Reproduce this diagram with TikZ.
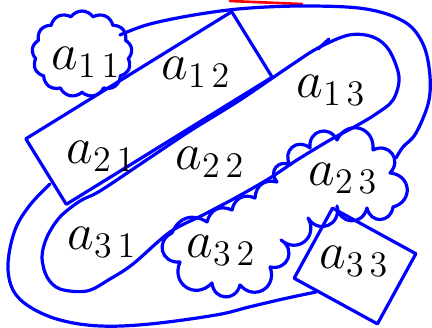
\documentclass[tikz,border=0pt]{standalone}
\usepackage{tikz}
\usetikzlibrary{shapes.symbols}

\begin{document}
\begin{tikzpicture}[
  x=1pt, y=-1pt,
  pen/.style={draw=blue, line width=3.2pt, line cap=round, line join=round},
  blob/.style={cloud, cloud puffs=13, cloud puff arc=110, pen, inner sep=0pt},
  box/.style={rectangle, pen, inner sep=0pt},
  entry/.style={font=\huge, inner sep=0pt, scale=2.5, transform shape},
  scallop/.style={bend left=50, looseness=1.2},
  puff/.style={bend left=80, looseness=1.6}
]
\useasboundingbox (0,0) rectangle (432,328);

% red stroke at the top edge
\draw[red, line width=2.6pt, line cap=round] (230,1) -- (302,4);

% outer loop
\draw[pen] plot[smooth, tension=0.6] coordinates {(120,35) (150,24) (200,14) (250,8) (310,6)
  (366,9) (403,21) (421,40) (429,67) (429,100) (416,133) (403,147) (396,158)};
\draw[pen] plot[smooth, tension=0.6] coordinates {(50,184) (30,205) (15,230) (8,264) (13,290)
  (30,307) (60,320) (100,326) (150,324) (216,315) (249,307) (283,299) (316,292)};

% hairpin loop a13 - a22 - a31
\draw[pen] plot[smooth cycle, tension=0.55] coordinates {(80,201) (100,191) (145,161) (190,131)
  (240,100) (290,66) (318,48) (349,35) (373,37) (389,50) (399,77) (393,100) (376,114)
  (356,126) (330,140) (297,160) (270,178) (237,197) (203,215) (170,232) (133,264)
  (110,279) (87,291) (60,289) (47,277) (42,257) (47,237) (60,217)};
\draw[pen] (318,49) -- (329,39);

% cloud a11
\node[blob, minimum width=100pt, minimum height=86pt] (c11) at (82,54) {};

% box a12 - a21
\node[box, minimum width=242pt, minimum height=77pt, rotate=31.7] (b12) at (149,108) {};

% cloud a23 - a32
\draw[pen] (172,233) to[scallop] (207,222) to[scallop] (232,210) to[scallop] (255,198)
  to[scallop] (277,182) to[puff] (290,165) to[puff] (310,148) to[puff] (337,140)
  to[puff] (373,150) to[puff] (390,173) to[puff] (393,207) to[puff] (367,208)
  to[puff] (337,206) to[puff] (308,218) to[puff] (281,240) to[puff] (270,267)
  to[puff] (240,285) to[puff] (212,283) to[puff] (180,262) to[puff] (172,233);

% box a33
\node[box, minimum width=95pt, minimum height=80pt, rotate=-28.7] (b33) at (355,266) {};

% entries
\node[entry] (e11) at (86,62) {$a_{1\,1}$};
\node[entry] (e12) at (196,72) {$a_{1\,2}$};
\node[entry] (e13) at (331,90) {$a_{1\,3}$};
\node[entry] (e21) at (101,156) {$a_{2\,1}$};
\node[entry] (e22) at (210,162) {$a_{2\,2}$};
\node[entry] (e23) at (343,178) {$a_{2\,3}$};
\node[entry] (e31) at (102,242) {$a_{3\,1}$};
\node[entry] (e32) at (221,250) {$a_{3\,2}$};
\node[entry] (e33) at (354,261) {$a_{3\,3}$};
\end{tikzpicture}
\end{document}
